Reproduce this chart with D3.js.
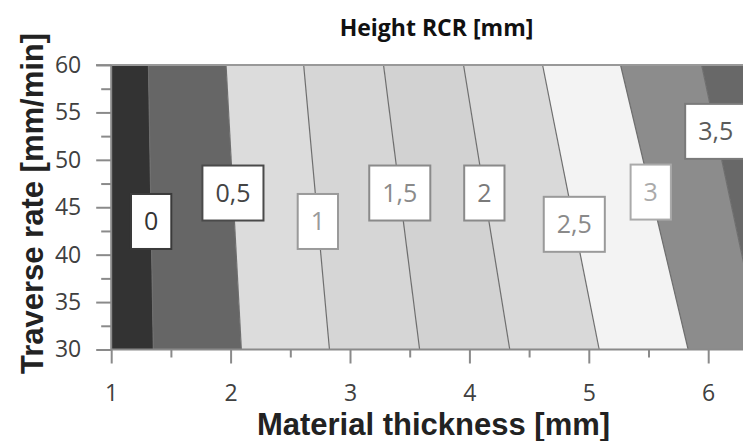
<!DOCTYPE html>
<html>
<head>
<meta charset="utf-8">
<script src="https://cdn.jsdelivr.net/npm/d3@7"></script>
<style>
  html, body { margin: 0; padding: 0; background: #fff; }
  svg { display: block; }
</style>
</head>
<body>
<svg id="chart" width="743" height="441"></svg>
<script>
// Contour levels of the RCR height [mm] and where each contour line
// crosses the lowest and highest traverse rate (thickness in mm).
const levels = [0, 0.5, 1, 1.5, 2, 2.5, 3, 3.5];
const levelLabels = ["0", "0,5", "1", "1,5", "2", "2,5", "3", "3,5"];
const rateEnds = [30, 60];
const thicknessAtRate30 = [1.353, 2.090, 2.828, 3.583, 4.338, 5.087, 5.832, 6.45];
const thicknessAtRate60 = [1.312, 1.962, 2.612, 3.281, 3.951, 4.613, 5.266, 5.945];
// Traverse rate at which each contour label sits
const labelRates = [43.5, 46.5, 43.5, 46.5, 46.5, 43.2, 46.6, 53.0];

// Axis ticks
const xTicks = [1, 2, 3, 4, 5, 6];
const xMinorTicks = [1.5, 2.5, 3.5, 4.5, 5.5, 6.5];
const yTicks = [30, 35, 40, 45, 50, 55, 60];
const yMinorTicks = [32.5, 37.5, 42.5, 47.5, 52.5, 57.5];

// Band fills, from below the lowest level to above the highest
const bandColors = ["#333333", "#666666", "#dcdcdc", "#d6d6d6", "#d2d2d2",
                    "#d9d9d9", "#f3f3f3", "#8c8c8c", "#686868"];
const labelTextColors = ["#333", "#444", "#9a9a9a", "#8a8a8a", "#7a7a7a", "#8a8a8a", "#aaaaaa", "#5a5a5a"];
const labelBorderColors = ["#3a3a3a", "#4a4a4a", "#9a9a9a", "#8a8a8a", "#8a8a8a", "#9a9a9a", "#aaaaaa", "#7a7a7a"];

const svg = d3.select("#chart");
const xMin = 1, xMax = 6.6;

const x = d3.scaleLinear().domain([1, 6]).range([111.2, 708.2]);
const y = d3.scaleLinear().domain([30, 60]).range([349.5, 65]);

const contourAt = (i, r) => i < 0 ? xMin : (i >= levels.length ? xMax :
  (r === 30 ? thicknessAtRate30[i] : thicknessAtRate60[i]));

// Filled bands between consecutive contour lines
const area = d3.area()
  .y(d => y(d.rate))
  .x0(d => x(d.left))
  .x1(d => x(d.right));

const plot = svg.append("g");
bandColors.forEach((c, i) => {
  const pts = rateEnds.map(r => ({ rate: r, left: contourAt(i - 1, r), right: contourAt(i, r) }));
  plot.append("path").attr("d", area(pts)).attr("fill", c);
});

// Contour lines
const line = d3.line().x(d => x(d.t)).y(d => y(d.rate));
levels.forEach((lv, i) => {
  const pts = rateEnds.map(r => ({ rate: r, t: contourAt(i, r) }));
  plot.append("path").attr("d", line(pts))
    .attr("fill", "none").attr("stroke", "#6e6e6e").attr("stroke-width", 1.2);
});

// Frame: top border
svg.append("line")
  .attr("x1", 96).attr("x2", 743).attr("y1", y(60)).attr("y2", y(60))
  .attr("stroke", "#999").attr("stroke-width", 2);

const axisColor = "#8a8a8a";
const tickFont = "'Open Sans', sans-serif";

// X axis
const xMinorAxis = d3.axisBottom(x).tickValues(xMinorTicks).tickSize(8).tickFormat("");
const xAxis = d3.axisBottom(x).tickValues(xTicks).tickSize(14).tickPadding(21)
  .tickFormat(d3.format("d"));
const gxm = svg.append("g").attr("transform", `translate(0,${y(30)})`).call(xMinorAxis);
const gx = svg.append("g").attr("transform", `translate(0,${y(30)})`).call(xAxis);
gxm.select(".domain").remove();
gx.select(".domain").attr("d", `M${x(1)},0H743`).attr("stroke", axisColor).attr("stroke-width", 2);

// Y axis
const yMinorAxis = d3.axisLeft(y).tickValues(yMinorTicks).tickSize(10).tickFormat("");
const yAxis = d3.axisLeft(y).tickValues(yTicks).tickSize(15).tickPadding(15)
  .tickFormat(d3.format("d"));
const gym = svg.append("g").attr("transform", `translate(${x(1)},0)`).call(yMinorAxis);
const gy = svg.append("g").attr("transform", `translate(${x(1)},0)`).call(yAxis);
gym.select(".domain").remove();
gy.select(".domain").attr("stroke", axisColor).attr("stroke-width", 2)
  .attr("d", `M0,${y(60)}V${y(30)}`);

[gx, gxm, gy, gym].forEach(g => {
  g.selectAll(".tick line").attr("stroke", axisColor).attr("stroke-width", 2);
  g.selectAll(".tick text")
    .attr("font-family", tickFont).attr("font-size", 23).attr("fill", "#404040");
});

// Contour labels in boxed tags
const labelFont = 25;
levels.forEach((lv, i) => {
  const r = labelRates[i];
  const t30 = contourAt(i, 30), t60 = contourAt(i, 60);
  const t = t30 + (t60 - t30) * (r - 30) / 30;
  const cx = x(t), cy = y(r);
  const g = svg.append("g").attr("transform", `translate(${cx},${cy})`);
  const rect = g.append("rect");
  const txt = g.append("text")
    .attr("text-anchor", "middle").attr("dy", "0.36em")
    .attr("font-family", tickFont).attr("font-size", labelFont)
    .attr("fill", labelTextColors[i])
    .text(levelLabels[i]);
  const w = txt.node().getComputedTextLength() + 26;
  const h = 55;
  rect.attr("x", -w / 2).attr("y", -h / 2).attr("width", w).attr("height", h)
    .attr("fill", "#fff").attr("stroke", labelBorderColors[i]).attr("stroke-width", 2);
});

// Titles
svg.append("text")
  .attr("x", 436.5).attr("y", 36)
  .attr("text-anchor", "middle")
  .attr("font-family", tickFont).attr("font-weight", 700).attr("font-size", 23)
  .attr("fill", "#111")
  .text("Height RCR [mm]");

svg.append("text")
  .attr("x", 433.5).attr("y", 435)
  .attr("text-anchor", "middle")
  .attr("font-family", "'Liberation Sans', Arial, sans-serif").attr("font-weight", 700)
  .attr("font-size", 31).attr("fill", "#222")
  .text("Material thickness [mm]");

svg.append("text")
  .attr("transform", "translate(43,203.5) rotate(-90)")
  .attr("text-anchor", "middle")
  .attr("font-family", "'Liberation Sans', Arial, sans-serif").attr("font-weight", 700)
  .attr("font-size", 31).attr("fill", "#222")
  .text("Traverse rate [mm/min]");
</script>
</body>
</html>
